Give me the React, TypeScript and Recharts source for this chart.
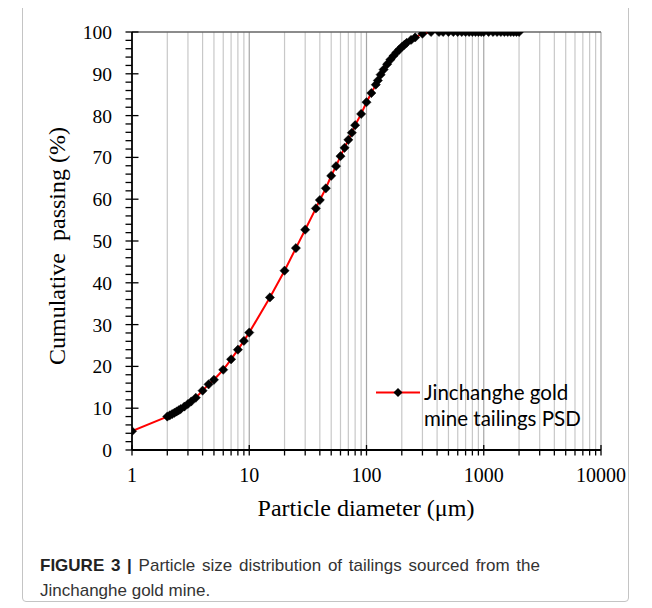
import React from "react";
import { LineChart, Line, XAxis, YAxis, ReferenceLine, Legend } from "recharts";

const sizes = [
  1, 2, 2.1, 2.2, 2.3, 2.4, 2.5, 2.6, 2.8, 3, 3.2, 3.5, 4, 4.5, 5, 6, 7, 8, 9, 10,
  15, 20, 25, 30, 37, 40, 45, 50, 55, 60, 65, 70, 75, 80, 90, 100, 110, 120, 125,
  132, 140, 150, 160, 170, 180, 190, 200, 210, 220, 240, 260, 300, 355, 415, 450,
  500, 550, 600, 650, 700, 750, 800, 850, 900, 950, 1000, 1100, 1200, 1300, 1400,
  1500, 1600, 1700, 1800, 1900, 2000,
];
const passing = [
  4.5, 8.0, 8.3, 8.6, 8.9, 9.2, 9.5, 9.8, 10.4, 11.0, 11.6, 12.5, 14.2, 15.7, 16.8,
  19.2, 21.7, 24.0, 26.1, 28.1, 36.5, 42.9, 48.3, 52.7, 57.8, 59.8, 62.6, 65.6, 67.9,
  70.3, 72.3, 74.2, 75.9, 77.7, 80.4, 83.2, 85.4, 87.4, 88.4, 89.8, 91.0, 92.3, 93.4,
  94.3, 95.1, 95.8, 96.4, 96.9, 97.4, 98.1, 98.7, 99.6, 100, 100, 100, 100, 100, 100,
  100, 100, 100, 100, 100, 100, 100, 100, 100, 100, 100, 100, 100, 100, 100, 100, 100,
  100,
];
const xMajorTicks = [1, 10, 100, 1000, 10000];
const xMinorTicks = [
  2, 3, 4, 5, 6, 7, 8, 9, 20, 30, 40, 50, 60, 70, 80, 90, 200, 300, 400, 500, 600,
  700, 800, 900, 2000, 3000, 4000, 5000, 6000, 7000, 8000, 9000,
];
const yMajorTicks = [0, 10, 20, 30, 40, 50, 60, 70, 80, 90, 100];
const yMinorTicks = [
  2, 4, 6, 8, 12, 14, 16, 18, 22, 24, 26, 28, 32, 34, 36, 38, 42, 44, 46, 48, 52, 54,
  56, 58, 62, 64, 66, 68, 72, 74, 76, 78, 82, 84, 86, 88, 92, 94, 96, 98,
];
const seriesName = "Jinchanghe gold mine tailings PSD";
const legendLines = ["Jinchanghe gold", "mine tailings PSD"];
const xTitle = "Particle diameter (\u03bcm)";
const yTitle = "Cumulative  passing (%)";
const captionBold = "FIGURE 3 |";
const captionText = " Particle size distribution of tailings sourced from the";
const captionText2 = "Jinchanghe gold mine.";

const data = sizes.map((d, i) => ({ d, p: passing[i] }));
const xAllTicks = [...xMajorTicks, ...xMinorTicks].sort((a, b) => a - b);
const yAllTicks = [...yMajorTicks, ...yMinorTicks].sort((a, b) => a - b);

const serif = "'Liberation Serif', 'Times New Roman', serif";

const XTick = (props: any) => {
  const { x, y, payload } = props;
  const major = xMajorTicks.includes(payload.value);
  return (
    <g>
      <line x1={x} x2={x} y1={major ? y - 5 : y} y2={y + 5.5} stroke="#000" strokeWidth={1.3} />
      {major && (
        <text x={x} y={y + 32} textAnchor="middle" fontFamily={serif} fontSize={20} fill="#000">
          {payload.value}
        </text>
      )}
    </g>
  );
};

const YTick = (props: any) => {
  const { x, y, payload } = props;
  const major = yMajorTicks.includes(payload.value);
  return (
    <g>
      <line x1={x - 6.5} x2={major ? x + 6.5 : x} y1={y} y2={y} stroke="#000" strokeWidth={1.3} />
      {major && (
        <text x={x - 20} y={y + 7} textAnchor="end" fontFamily={serif} fontSize={19.5} fill="#000">
          {payload.value}
        </text>
      )}
    </g>
  );
};

const Diamond = (props: any) => {
  const { cx, cy } = props;
  if (cx == null || cy == null) return <g />;
  const r = 4.6;
  return (
    <polygon
      points={`${cx},${cy - r} ${cx + r},${cy} ${cx},${cy + r} ${cx - r},${cy}`}
      fill="#000"
      stroke="#000"
      strokeWidth={0.5}
    />
  );
};

const LegendContent = () => (
  <div style={{ display: "flex", alignItems: "flex-start" }}>
    <svg width={50} height={27} style={{ display: "block" }}>
      <line x1={3} x2={47} y1={13.5} y2={13.5} stroke="#ff0000" strokeWidth={2} />
      <polygon points="25,9 29.5,13.5 25,18 20.5,13.5" fill="#000" />
    </svg>
    <div
      style={{
        fontFamily: "Lato, 'Open Sans', sans-serif",
        fontSize: 20.5,
        lineHeight: "26px",
        color: "#000",
        marginLeft: 1,
        marginTop: 0,
        textAlign: "left",
        whiteSpace: "nowrap",
      }}
    >
      <div>{legendLines[0]}</div>
      <div>{legendLines[1]}</div>
    </div>
  </div>
);

export default function App() {
  return (
    <div style={{ position: "relative", width: 636, height: 600 }}>
      <div
        style={{
          position: "absolute",
          left: 14,
          top: -20,
          width: 607,
          height: 614,
          border: "1px solid #c4c4c4",
          borderRadius: 4,
          boxSizing: "border-box",
        }}
      />
      <LineChart
        width={640}
        height={490}
        data={data}
        margin={{ top: 24, right: 47, bottom: 0, left: 0 }}
      >
        <XAxis
          dataKey="d"
          type="number"
          scale="log"
          domain={[1, 10000]}
          ticks={xAllTicks}
          interval={0}
          tickSize={0}
          tickMargin={0}
          tickLine={false}
          tick={<XTick />}
          axisLine={{ stroke: "#000", strokeWidth: 1.8 }}
          height={48}
          allowDataOverflow
        />
        <YAxis
          type="number"
          domain={[0, 100]}
          ticks={yAllTicks}
          interval={0}
          tickSize={0}
          tickMargin={0}
          tickLine={false}
          tick={<YTick />}
          axisLine={{ stroke: "#000", strokeWidth: 1.8 }}
          width={124}
          allowDataOverflow
        />
        {xMinorTicks.map((v) => (
          <ReferenceLine key={"m" + v} x={v} stroke="#c8c8c8" strokeWidth={1.2} ifOverflow="visible" />
        ))}
        {xMajorTicks.slice(1).map((v) => (
          <ReferenceLine key={"M" + v} x={v} stroke="#a6a6a6" strokeWidth={1.2} ifOverflow="visible" />
        ))}
        <ReferenceLine y={100} stroke="#666" strokeWidth={1.5} ifOverflow="visible" />
        <Line
          type="linear"
          dataKey="p"
          name={seriesName}
          stroke="#ff0000"
          strokeWidth={2}
          dot={<Diamond />}
          activeDot={false}
          isAnimationActive={false}
        />
        <Legend
          layout="horizontal"
          verticalAlign="middle"
          align="center"
          content={<LegendContent />}
          wrapperStyle={{ position: "absolute", left: 365, top: 371, width: 240, height: 60 }}
        />
      </LineChart>
      <svg
        width={636}
        height={600}
        style={{ position: "absolute", left: 0, top: 0, pointerEvents: "none" }}
      >
        <text
          x={49}
          y={238}
          transform="rotate(-90 49 238)"
          textAnchor="middle"
          dominantBaseline="central"
          fontFamily={serif}
          fontSize={24}
          fill="#000"
          style={{ whiteSpace: "pre" }}
        >
          {yTitle}
        </text>
        <text
          x={358}
          y={500}
          textAnchor="middle"
          dominantBaseline="central"
          fontFamily={serif}
          fontSize={24}
          fill="#000"
        >
          {xTitle}
        </text>
      </svg>
      <div
        style={{
          position: "absolute",
          left: 32,
          top: 545,
          width: 500,
          fontFamily: "'Liberation Sans Narrow', 'Liberation Sans', Arial, sans-serif",
          fontSize: 17,
          lineHeight: "25px",
          color: "#333",
        }}
      >
        <div style={{ textAlign: "justify", textAlignLast: "justify" }}>
          <b style={{ color: "#222" }}>{captionBold}</b>
          {captionText}
        </div>
        <div>{captionText2}</div>
      </div>
    </div>
  );
}
